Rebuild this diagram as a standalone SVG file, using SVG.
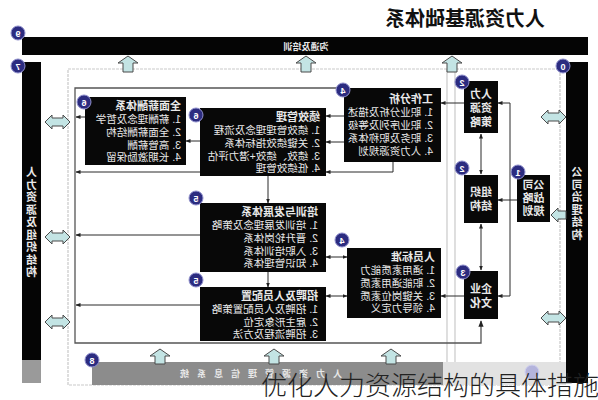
<svg xmlns="http://www.w3.org/2000/svg" width="598" height="400" viewBox="0 0 598 400">
<style>
.t{font-family:"Liberation Sans","Noto Sans CJK SC",sans-serif;fill:#e8e8e8;font-size:10.5px}
.tb{font-weight:bold;font-size:11px}
.bx{fill:#080808}
.bar{fill:#050505}
.ln{stroke:#2a2a2a;stroke-width:1;fill:none}
.fr{stroke:#555;stroke-width:1.3;fill:none}
.lt{stroke:#c9c9c9;stroke-width:1.2;fill:none}
.ba{fill:#c3e4e4;stroke:#4a4a4a;stroke-width:1}
.bd circle{fill:#2c2c80;stroke:#9090cc;stroke-width:1}
.bd text{fill:#fff;font-family:"Liberation Sans",sans-serif;font-size:9px;font-weight:bold;text-anchor:middle}
.ct{text-anchor:middle;font-weight:bold;font-size:11px}
.vt{text-anchor:middle;font-weight:bold;font-size:11px}
</style>
<defs>
<marker id="ah" viewBox="0 0 10 10" refX="9" refY="5" markerWidth="5" markerHeight="5" orient="auto-start-reverse"><path d="M0,1 L10,5 L0,9 Z" fill="#222"/></marker>
</defs>
<rect width="598" height="400" fill="#fff"/>

<!-- title -->
<text x="465" y="26" transform="matrix(-1 0 0 1 930 0)" style="font-family:'Liberation Sans','Noto Sans CJK SC',sans-serif;font-size:20px;font-weight:bold;fill:#111;text-anchor:middle">人力资源基础体系</text>

<!-- light frames -->
<rect x="68" y="69" width="492" height="316" class="lt" stroke-dasharray="3 1"/>
<line x1="447" y1="69" x2="447" y2="385" class="lt"/>
<line x1="455" y1="69" x2="455" y2="385" class="lt"/>

<!-- top bar -->
<g id="bar-top">
<rect x="22" y="37" width="566" height="18" class="bar"/>
<text x="306" y="50" transform="matrix(-1 0 0 1 612 0)" class="t" style="font-size:9px;text-anchor:middle;font-weight:bold">沟通及培训</text>
</g>

<!-- left bar -->
<g id="bar-left">
<rect x="22" y="62" width="19" height="298" class="bar"/>
<rect x="22" y="360" width="19" height="23" fill="#9a9a9a"/>
<g transform="matrix(-1 0 0 1 63 0)">
<text class="t vt" x="31.5" y="176">人</text>
<text class="t vt" x="31.5" y="188.5">力</text>
<text class="t vt" x="31.5" y="201">资</text>
<text class="t vt" x="31.5" y="213.5">源</text>
<text class="t vt" x="31.5" y="226">及</text>
<text class="t vt" x="31.5" y="238.5">组</text>
<text class="t vt" x="31.5" y="251">织</text>
<text class="t vt" x="31.5" y="263.5">结</text>
<text class="t vt" x="31.5" y="276">构</text>
</g>
</g>

<!-- right bar -->
<g id="bar-right">
<rect x="566" y="62" width="22" height="321" class="bar"/>
<g transform="matrix(-1 0 0 1 1154 0)">
<text class="t vt" x="577" y="176">公</text>
<text class="t vt" x="577" y="188.6">司</text>
<text class="t vt" x="577" y="201.2">治</text>
<text class="t vt" x="577" y="213.8">理</text>
<text class="t vt" x="577" y="226.4">结</text>
<text class="t vt" x="577" y="239">构</text>
</g>
</g>

<!-- bottom bar -->
<g id="bar-bottom">
<rect x="92" y="362" width="351" height="23" fill="#8c8c8c"/>
<rect x="443" y="362" width="123" height="23" fill="#e2e2e2"/>
<text x="257" y="377" transform="matrix(-1 0 0 1 514 0)" class="t" style="font-size:9px;text-anchor:middle;font-weight:bold;letter-spacing:8px">人力资源管理信息系统</text>
</g>

<!-- block arrows -->
<g id="block-arrows">
<path class="ba" d="M128,56 L138,63 L133,63 L133,72 L123,72 L123,63 L118,63 Z"/>
<path class="ba" d="M306,56 L316,63 L311,63 L311,72 L301,72 L301,63 L296,63 Z"/>
<path class="ba" d="M452,56 L462,63 L457,63 L457,72 L447,72 L447,63 L442,63 Z"/>
<path class="ba" d="M160,349 L170,356 L165,356 L165,364 L155,364 L155,356 L150,356 Z"/>
<path class="ba" d="M274,349 L284,356 L279,356 L279,364 L269,364 L269,356 L264,356 Z"/>
<path class="ba" d="M391,349 L401,356 L396,356 L396,364 L386,364 L386,356 L381,356 Z"/>
<path class="ba" d="M45,122 L52,115 L52,118 L63,118 L63,115 L70,122 L63,129 L63,126 L52,126 L52,129 Z"/>
<path class="ba" d="M45,237 L52,230 L52,233 L63,233 L63,230 L70,237 L63,244 L63,241 L52,241 L52,244 Z"/>
<path class="ba" d="M45,322 L52,315 L52,318 L63,318 L63,315 L70,322 L63,329 L63,326 L52,326 L52,329 Z"/>
<path class="ba" d="M541,117 L548,110 L548,113 L559,113 L559,110 L566,117 L559,124 L559,121 L548,121 L548,124 Z"/>
<path class="ba" d="M551,215 L558,208 L558,211 L566,211 L566,219 L558,219 L558,222 Z"/>
<path class="ba" d="M541,318 L548,311 L548,314 L559,314 L559,311 L566,318 L559,325 L559,322 L548,322 L548,325 Z"/>
</g>

<!-- connectors -->
<g id="connectors">
<path class="fr" d="M344,88 H75 V343 H481 V321" marker-end="url(#ah)"/>
<line class="ln" x1="481" y1="134" x2="481" y2="174" marker-start="url(#ah)" marker-end="url(#ah)"/>
<line class="ln" x1="481" y1="224" x2="481" y2="270" marker-start="url(#ah)" marker-end="url(#ah)"/>
<line class="ln" x1="517" y1="200" x2="498" y2="200" marker-end="url(#ah)"/>
<path class="ln" d="M498,103 H510 V296 H498" marker-start="url(#ah)" marker-end="url(#ah)"/>
<line class="ln" x1="464" y1="103" x2="441" y2="103" marker-end="url(#ah)"/>
<line class="ln" x1="464" y1="296" x2="441" y2="296" marker-end="url(#ah)"/>
<line class="ln" x1="85" y1="117" x2="76" y2="117" marker-end="url(#ah)"/>
<line class="ln" x1="200" y1="172" x2="76" y2="172" marker-end="url(#ah)"/>
<line class="ln" x1="200" y1="235" x2="76" y2="235" marker-end="url(#ah)"/>
<line class="ln" x1="200" y1="305" x2="76" y2="305" marker-end="url(#ah)"/>
<line class="ln" x1="200" y1="141" x2="186" y2="141" marker-end="url(#ah)"/>
<line class="ln" x1="344" y1="116" x2="326" y2="116" marker-end="url(#ah)"/>
<line class="ln" x1="344" y1="142" x2="326" y2="142" marker-end="url(#ah)"/>
<path class="ln" d="M393,162 V172 H326" marker-end="url(#ah)"/>
<line class="ln" x1="268" y1="176" x2="268" y2="203" marker-end="url(#ah)"/>
<line class="ln" x1="268" y1="272" x2="268" y2="287" marker-end="url(#ah)"/>
<line class="ln" x1="326" y1="257" x2="347" y2="257" marker-start="url(#ah)" marker-end="url(#ah)"/>
<line class="ln" x1="326" y1="296" x2="347" y2="296" marker-start="url(#ah)" marker-end="url(#ah)"/>
</g>

<!-- nodes -->
<g id="n-xinchou">
<rect class="bx" x="85" y="97" width="101" height="68"/>
<g transform="matrix(-1 0 0 1 362 0)">
<text class="t tb" x="181" y="110">全面薪酬体系</text>
<text class="t" x="181" y="123">1. 薪酬理念及哲学</text>
<text class="t" x="181" y="136">2. 全面薪酬结构</text>
<text class="t" x="181" y="148.5">3. 高管薪酬</text>
<text class="t" x="181" y="161">4. 长期激励保留</text>
</g>
</g>

<g id="n-jixiao">
<rect class="bx" x="200" y="108" width="126" height="68"/>
<g transform="matrix(-1 0 0 1 640 0)">
<text class="t tb" x="320" y="121">绩效管理</text>
<text class="t" x="320" y="134">1. 绩效管理理念及流程</text>
<text class="t" x="320" y="147">2. 关键绩效指标体系</text>
<text class="t" x="320" y="159.5">3. 绩效、绩效+潜力评估</text>
<text class="t" x="320" y="172">4. 低绩效管理</text>
</g>
</g>

<g id="n-gongzuo">
<rect class="bx" x="344" y="88" width="97" height="74"/>
<g transform="matrix(-1 0 0 1 868 0)">
<text class="t tb" x="435" y="103">工作分析</text>
<text class="t" x="435" y="116">1. 职业分析及描述</text>
<text class="t" x="435" y="129">2. 职业序列及等级</text>
<text class="t" x="435" y="142">3. 职务及职称体系</text>
<text class="t" x="435" y="155">4. 人力资源规划</text>
</g>
</g>

<g id="n-peixun">
<rect class="bx" x="200" y="203" width="126" height="69"/>
<g transform="matrix(-1 0 0 1 636 0)">
<text class="t tb" x="318" y="216">培训与发展体系</text>
<text class="t" x="318" y="229">1. 培训发展理念及策略</text>
<text class="t" x="318" y="242">2. 晋升轮岗体系</text>
<text class="t" x="318" y="254.5">3. 入职培训体系</text>
<text class="t" x="318" y="267">4. 知识管理体系</text>
</g>
</g>

<g id="n-zhaopin">
<rect class="bx" x="200" y="287" width="126" height="54"/>
<g transform="matrix(-1 0 0 1 636 0)">
<text class="t tb" x="318" y="300">招聘及人员配置</text>
<text class="t" x="318" y="313">1. 招聘及人员配置策略</text>
<text class="t" x="318" y="325.5">2. 雇主形象定位</text>
<text class="t" x="318" y="338">3. 招聘流程及方法</text>
</g>
</g>

<g id="n-renyuan">
<rect class="bx" x="347" y="248" width="94" height="70"/>
<g transform="matrix(-1 0 0 1 870 0)">
<text class="t tb" x="435" y="261">人员标准</text>
<text class="t" x="435" y="274">1. 通用素质能力</text>
<text class="t" x="435" y="287">2. 职能通用素质</text>
<text class="t" x="435" y="299.5">3. 关键岗位素质</text>
<text class="t" x="435" y="312">4. 领导力定义</text>
</g>
</g>

<g id="n-celue">
<rect class="bx" x="464" y="81" width="34" height="52"/>
<g transform="matrix(-1 0 0 1 962 0)">
<text class="t ct" x="481" y="98">人力</text>
<text class="t ct" x="481" y="112">资源</text>
<text class="t ct" x="481" y="126">策略</text>
</g>
</g>

<g id="n-zuzhi">
<rect class="bx" x="464" y="175" width="34" height="48"/>
<g transform="matrix(-1 0 0 1 962 0)">
<text class="t ct" x="481" y="196">组织</text>
<text class="t ct" x="481" y="210">结构</text>
</g>
</g>

<g id="n-wenhua">
<rect class="bx" x="464" y="271" width="34" height="48"/>
<g transform="matrix(-1 0 0 1 962 0)">
<text class="t ct" x="481" y="293">企业</text>
<text class="t ct" x="481" y="307">文化</text>
</g>
</g>

<g id="n-zhanlue">
<rect class="bx" x="517" y="175" width="33" height="47"/>
<g transform="matrix(-1 0 0 1 1067 0)">
<text class="t ct" x="533.5" y="189">公司</text>
<text class="t ct" x="533.5" y="202">战略</text>
<text class="t ct" x="533.5" y="215">规划</text>
</g>
</g>

<!-- badges -->
<g id="badges" class="bd">
<circle cx="18" cy="33" r="7"/><text x="18" y="36.5" transform="matrix(-1 0 0 1 36 0)">9</text>
<circle cx="18" cy="66" r="7"/><text x="18" y="69.5" transform="matrix(-1 0 0 1 36 0)">7</text>
<circle cx="563" cy="66" r="7"/><text x="563" y="69.5" transform="matrix(-1 0 0 1 1126 0)">0</text>
<circle cx="84" cy="102" r="7"/><text x="84" y="105.5" transform="matrix(-1 0 0 1 168 0)">6</text>
<circle cx="196" cy="115" r="7"/><text x="196" y="118.5" transform="matrix(-1 0 0 1 392 0)">6</text>
<circle cx="343" cy="90" r="7"/><text x="343" y="93.5" transform="matrix(-1 0 0 1 686 0)">4</text>
<circle cx="462" cy="82" r="7"/><text x="462" y="85.5" transform="matrix(-1 0 0 1 924 0)">2</text>
<circle cx="462" cy="168" r="7"/><text x="462" y="171.5" transform="matrix(-1 0 0 1 924 0)">2</text>
<circle cx="518" cy="172" r="7"/><text x="518" y="175.5" transform="matrix(-1 0 0 1 1036 0)">1</text>
<circle cx="463" cy="272" r="7"/><text x="463" y="275.5" transform="matrix(-1 0 0 1 926 0)">3</text>
<circle cx="196" cy="198" r="7"/><text x="196" y="201.5" transform="matrix(-1 0 0 1 392 0)">5</text>
<circle cx="342" cy="240" r="7"/><text x="342" y="243.5" transform="matrix(-1 0 0 1 684 0)">4</text>
<circle cx="196" cy="280" r="7"/><text x="196" y="283.5" transform="matrix(-1 0 0 1 392 0)">5</text>
<circle cx="92" cy="360" r="7"/><text x="92" y="363.5" transform="matrix(-1 0 0 1 184 0)">8</text>
<circle cx="532" cy="372" r="7" style="fill:#b4b4dc;stroke:#d0d0ee"/>
</g>

<!-- caption -->
<text x="261" y="395" style="font-family:'Liberation Sans','Noto Sans CJK SC',sans-serif;font-size:26px;font-weight:300;fill:#222">优化人力资源结构的具体措施</text>
</svg>
